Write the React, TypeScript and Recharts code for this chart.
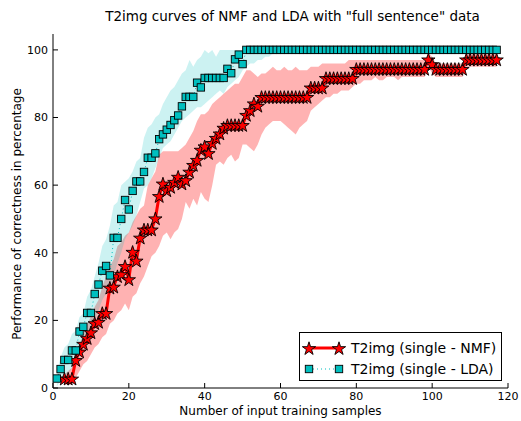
import { Area, ComposedChart, Line, XAxis, YAxis } from "recharts";

// LDA: one value per sample count, starting at 1 sample
const ldaFirst = 1;
const ldaMean = [
  2.8, 5.6, 8.3, 8.3, 11.1, 11.1, 16.7, 18.1, 22.2, 22.2,
  27.8, 30.6, 34.7, 36.1, 33.3, 44.4, 44.4, 50, 55.6, 52.8,
  58.3, 61.1, 61.1, 63.9, 68.1, 68.1, 69.4, 73.6, 75, 76.4,
  77.8, 79.2, 80.6, 83.3, 86.1, 86.1, 86.1, 90.3, 88.9, 91.7,
  91.7, 91.7, 91.7, 91.7, 91.7, 94.4, 93.1, 97.2, 98.6, 95.8,
  100, 100, 100, 100, 100, 100, 100, 100, 100, 100,
  100, 100, 100, 100, 100, 100, 100, 100, 100, 100,
  100, 100, 100, 100, 100, 100, 100, 100, 100, 100,
  100, 100, 100, 100, 100, 100, 100, 100, 100, 100,
  100, 100, 100, 100, 100, 100, 100, 100, 100, 100,
  100, 100, 100, 100, 100, 100, 100, 100, 100, 100,
  100, 100, 100, 100, 100, 100, 100,
];
const ldaLow = [
  0.5, 2, 4, 4, 6, 7, 11, 12, 16, 17,
  20, 23, 26, 28, 29, 33, 37, 40, 44, 46,
  48, 51, 55, 59, 60, 62, 65, 68, 71, 72,
  73, 75, 77, 79, 80, 81, 82, 83, 83, 84,
  85, 86, 87, 88, 87, 89, 90, 91, 92, 94,
  95, 96, 96, 97, 97, 98, 98, 99, 99, 100,
];
const ldaHigh = [
  5, 9, 12, 13, 16, 17, 21, 22, 27, 29,
  33, 37, 42, 44, 48, 54, 55, 60, 61, 62,
  64, 67, 68, 74, 77, 78, 80, 81, 84, 86,
  88, 89, 91, 93, 94, 97, 95, 97, 98, 100,
  99, 100, 98, 100, 100, 100, 100, 100, 100, 100,
  100, 100, 100, 100, 100, 100, 100, 100, 100, 100,
];

// NMF: starts at 3 samples
const nmfFirst = 3;
const nmfMean = [
  2.8, 2.8, 2.8, 8.3, 10.8, 13.1, 14.8, 16.5, 19.2, 19.6,
  22.2, 22.2, 29.7, 30, 33.1, 33.7, 36.1, 32.2, 40.3, 37.7,
  44.5, 46.9, 46.9, 46.9, 50.2, 56.8, 60.5, 58.5, 59.5, 61,
  62.5, 60.5, 61.5, 64, 66, 67.5, 70.5, 71.5, 69.5, 72.5,
  74, 75.3, 77, 77.8, 77.8, 77.8, 77.8, 77.8, 80.8, 82.2,
  84.2, 83.5, 86.1, 86.1, 86.1, 86.1, 86.1, 86.1, 86.1, 86.1,
  86.1, 86.1, 86.1, 86.1, 86.1, 88.9, 88.9, 88.9, 88.9, 91.7,
  91.7, 91.7, 91.7, 91.7, 91.7, 91.7, 91.7, 94.4, 94.4, 94.4,
  94.4, 94.4, 94.4, 94.4, 94.4, 94.4, 94.4, 94.4, 94.4, 94.4,
  94.4, 94.4, 94.4, 94.4, 94.4, 94.4, 97.2, 95.8, 94.4, 94.4,
  94.4, 94.4, 94.4, 94.4, 94.4, 94.4, 97.2, 97.2, 97.2, 97.2,
  97.2, 97.2, 97.2, 97.2, 97.2,
];
const nmfLow = [
  1, 1, 1, 3, 5, 7, 8, 10, 12, 13,
  15, 16, 19, 20, 22, 23, 25, 23, 27, 28,
  31, 33, 36, 39, 40, 42, 45, 46, 44, 46,
  47, 50, 55, 53, 56, 54, 58, 56, 55, 60,
  66, 67, 66, 68, 69, 67, 68, 72, 72, 71,
  70, 72, 75, 77, 78, 79, 79, 79, 78, 77,
  76, 75, 77, 78, 79, 82, 83, 84, 85, 86,
  86, 87, 87, 88, 88, 88, 89, 90, 90, 91,
  91, 91, 92, 91, 91, 92, 92, 92, 91, 92,
  92, 92, 92, 92, 92, 92, 95, 93, 92, 92,
  92, 92, 92, 92, 92, 92, 95, 95, 95, 95,
  95, 95, 95, 95, 95,
];
const nmfHigh = [
  4, 5, 6, 11, 13, 16, 19, 21, 24, 26,
  30, 33, 36, 38, 42, 43, 45, 46, 49, 51,
  53, 54, 60, 62, 64, 69, 70, 70, 70, 70,
  70, 71, 72, 74, 76, 79, 81, 81, 82, 84,
  85, 86, 87, 88, 89, 90, 90, 92, 94, 94,
  93, 92, 93, 93, 94, 95, 94, 94, 95, 94,
  94, 95, 94, 94, 94, 95, 95, 95, 96, 96,
  96, 96, 96, 96, 96, 97, 97, 97, 97, 97,
  97, 97, 97, 97, 97, 97, 97, 97, 97, 97,
  97, 97, 97, 97, 97, 97, 99, 98, 96, 96,
  96, 96, 96, 96, 96, 96, 99, 99, 99, 99,
  99, 99, 99, 99, 99,
];

const xTicks = [0, 20, 40, 60, 80, 100, 120];
const yTicks = [0, 20, 40, 60, 80, 100];

const font = "'DejaVu Sans', sans-serif";
const cyan = "#00bfbf";

const rows = ldaMean.map((v, i) => {
  const x = ldaFirst + i;
  const j = x - nmfFirst;
  const hasNmf = j >= 0 && j < nmfMean.length;
  return {
    x,
    lda: v,
    ldaBand: i < ldaLow.length ? [ldaLow[i], ldaHigh[i]] : undefined,
    nmf: hasNmf ? nmfMean[j] : null,
    nmfBand: hasNmf ? [nmfLow[j], nmfHigh[j]] : undefined,
  };
});

function starPoints(cx: number, cy: number, R: number) {
  const r = R * 0.382;
  const pts: string[] = [];
  for (let k = 0; k < 10; k++) {
    const a = -Math.PI / 2 + (k * Math.PI) / 5;
    const rad = k % 2 === 0 ? R : r;
    pts.push(`${cx + rad * Math.cos(a)},${cy + rad * Math.sin(a)}`);
  }
  return pts.join(" ");
}

function StarDot(props: any) {
  const { cx, cy, value, index } = props;
  if (value == null || cx == null || cy == null) return <g key={index} />;
  return (
    <polygon
      key={index}
      points={starPoints(cx, cy + 0.8, 7)}
      fill="#ff0000"
      stroke="#000"
      strokeWidth={0.9}
    />
  );
}

function SquareDot(props: any) {
  const { cx, cy, value, index } = props;
  if (value == null || cx == null || cy == null) return <g key={index} />;
  return (
    <rect
      key={index}
      x={cx - 3.7}
      y={cy - 3.7}
      width={7.4}
      height={7.4}
      fill={cyan}
      stroke="#000"
      strokeWidth={0.9}
    />
  );
}

function LegendBox() {
  return (
    <svg
      width={204}
      height={50}
      style={{ position: "absolute", left: 299, top: 332, display: "block" }}
    >
      <rect x={0.5} y={0.5} width={202} height={48} fill="#fff" stroke="#000" />
      <line x1={10} y1={16} x2={40} y2={16} stroke="#ff0000" strokeWidth={3} />
      <polygon points={starPoints(10, 16.8, 7)} fill="#ff0000" stroke="#000" strokeWidth={0.9} />
      <polygon points={starPoints(40, 16.8, 7)} fill="#ff0000" stroke="#000" strokeWidth={0.9} />
      <text x={52} y={16} dy="0.35em" fontFamily={font} fontSize={14}>
        T2img (single - NMF)
      </text>
      <line x1={10} y1={37} x2={40} y2={37} stroke={cyan} strokeWidth={1} strokeDasharray="1 3" />
      <rect x={6.3} y={33.3} width={7.4} height={7.4} fill={cyan} stroke="#000" strokeWidth={0.9} />
      <rect x={36.3} y={33.3} width={7.4} height={7.4} fill={cyan} stroke="#000" strokeWidth={0.9} />
      <text x={52} y={37} dy="0.35em" fontFamily={font} fontSize={14}>
        T2img (single - LDA)
      </text>
    </svg>
  );
}

const tickStyle = { fontFamily: font, fontSize: 11, fill: "#000" };

export default function App() {
  return (
    <div style={{ position: "absolute", left: 0, top: 0, width: 521, height: 421, background: "#fff" }}>
      <ComposedChart
        width={521}
        height={421}
        data={rows}
        margin={{ top: 34, right: 13, bottom: 0, left: 0 }}
      >
        <XAxis
          dataKey="x"
          type="number"
          domain={[0, 120]}
          ticks={xTicks}
          height={33}
          tickSize={-5}
          tickMargin={9}
          tick={tickStyle}
          stroke="#000"
          tickLine={{ stroke: "#000" }}
          allowDataOverflow
        />
        <XAxis
          xAxisId="top"
          orientation="top"
          dataKey="x"
          type="number"
          domain={[0, 120]}
          ticks={xTicks}
          height={0}
          tickSize={-5}
          tick={false}
          stroke="#000"
          allowDataOverflow
        />
        <YAxis
          type="number"
          domain={[0, 104.7]}
          ticks={yTicks}
          width={53}
          tickSize={-5}
          tickMargin={10}
          tick={tickStyle}
          stroke="#000"
          allowDataOverflow
        />
        <YAxis
          yAxisId="right"
          orientation="right"
          type="number"
          domain={[0, 104.7]}
          ticks={yTicks}
          width={0}
          tickSize={-5}
          tick={false}
          stroke="#000"
          allowDataOverflow
        />
        <Area
          dataKey="nmfBand"
          type="linear"
          stroke="none"
          fill="#ff0000"
          fillOpacity={0.3}
          isAnimationActive={false}
          activeDot={false}
          dot={false}
        />
        <Area
          dataKey="ldaBand"
          xAxisId="top"
          yAxisId="right"
          type="linear"
          stroke="none"
          fill={cyan}
          fillOpacity={0.2}
          isAnimationActive={false}
          activeDot={false}
          dot={false}
        />
        <Line
          dataKey="nmf"
          type="linear"
          stroke="#ff0000"
          strokeWidth={3}
          dot={StarDot}
          activeDot={false}
          isAnimationActive={false}
        />
        <Line
          dataKey="lda"
          type="linear"
          stroke={cyan}
          strokeWidth={1}
          strokeDasharray="1 3"
          dot={SquareDot}
          activeDot={false}
          isAnimationActive={false}
        />
      </ComposedChart>
      <div
        style={{
          position: "absolute",
          top: 8,
          left: 65,
          width: 455,
          textAlign: "center",
          fontFamily: font,
          fontSize: 13.5,
          whiteSpace: "nowrap",
        }}
      >
        T2img curves of NMF and LDA with "full sentence" data
      </div>
      <div
        style={{
          position: "absolute",
          top: 404,
          left: 53,
          width: 455,
          textAlign: "center",
          fontFamily: font,
          fontSize: 12,
          whiteSpace: "nowrap",
        }}
      >
        Number of input training samples
      </div>
      <div
        style={{
          position: "absolute",
          left: 17,
          top: 214,
          transform: "translate(-50%, -50%) rotate(-90deg)",
          fontFamily: font,
          fontSize: 12,
          whiteSpace: "nowrap",
        }}
      >
        Performance of correctness in percentage
      </div>
      <LegendBox />
    </div>
  );
}
